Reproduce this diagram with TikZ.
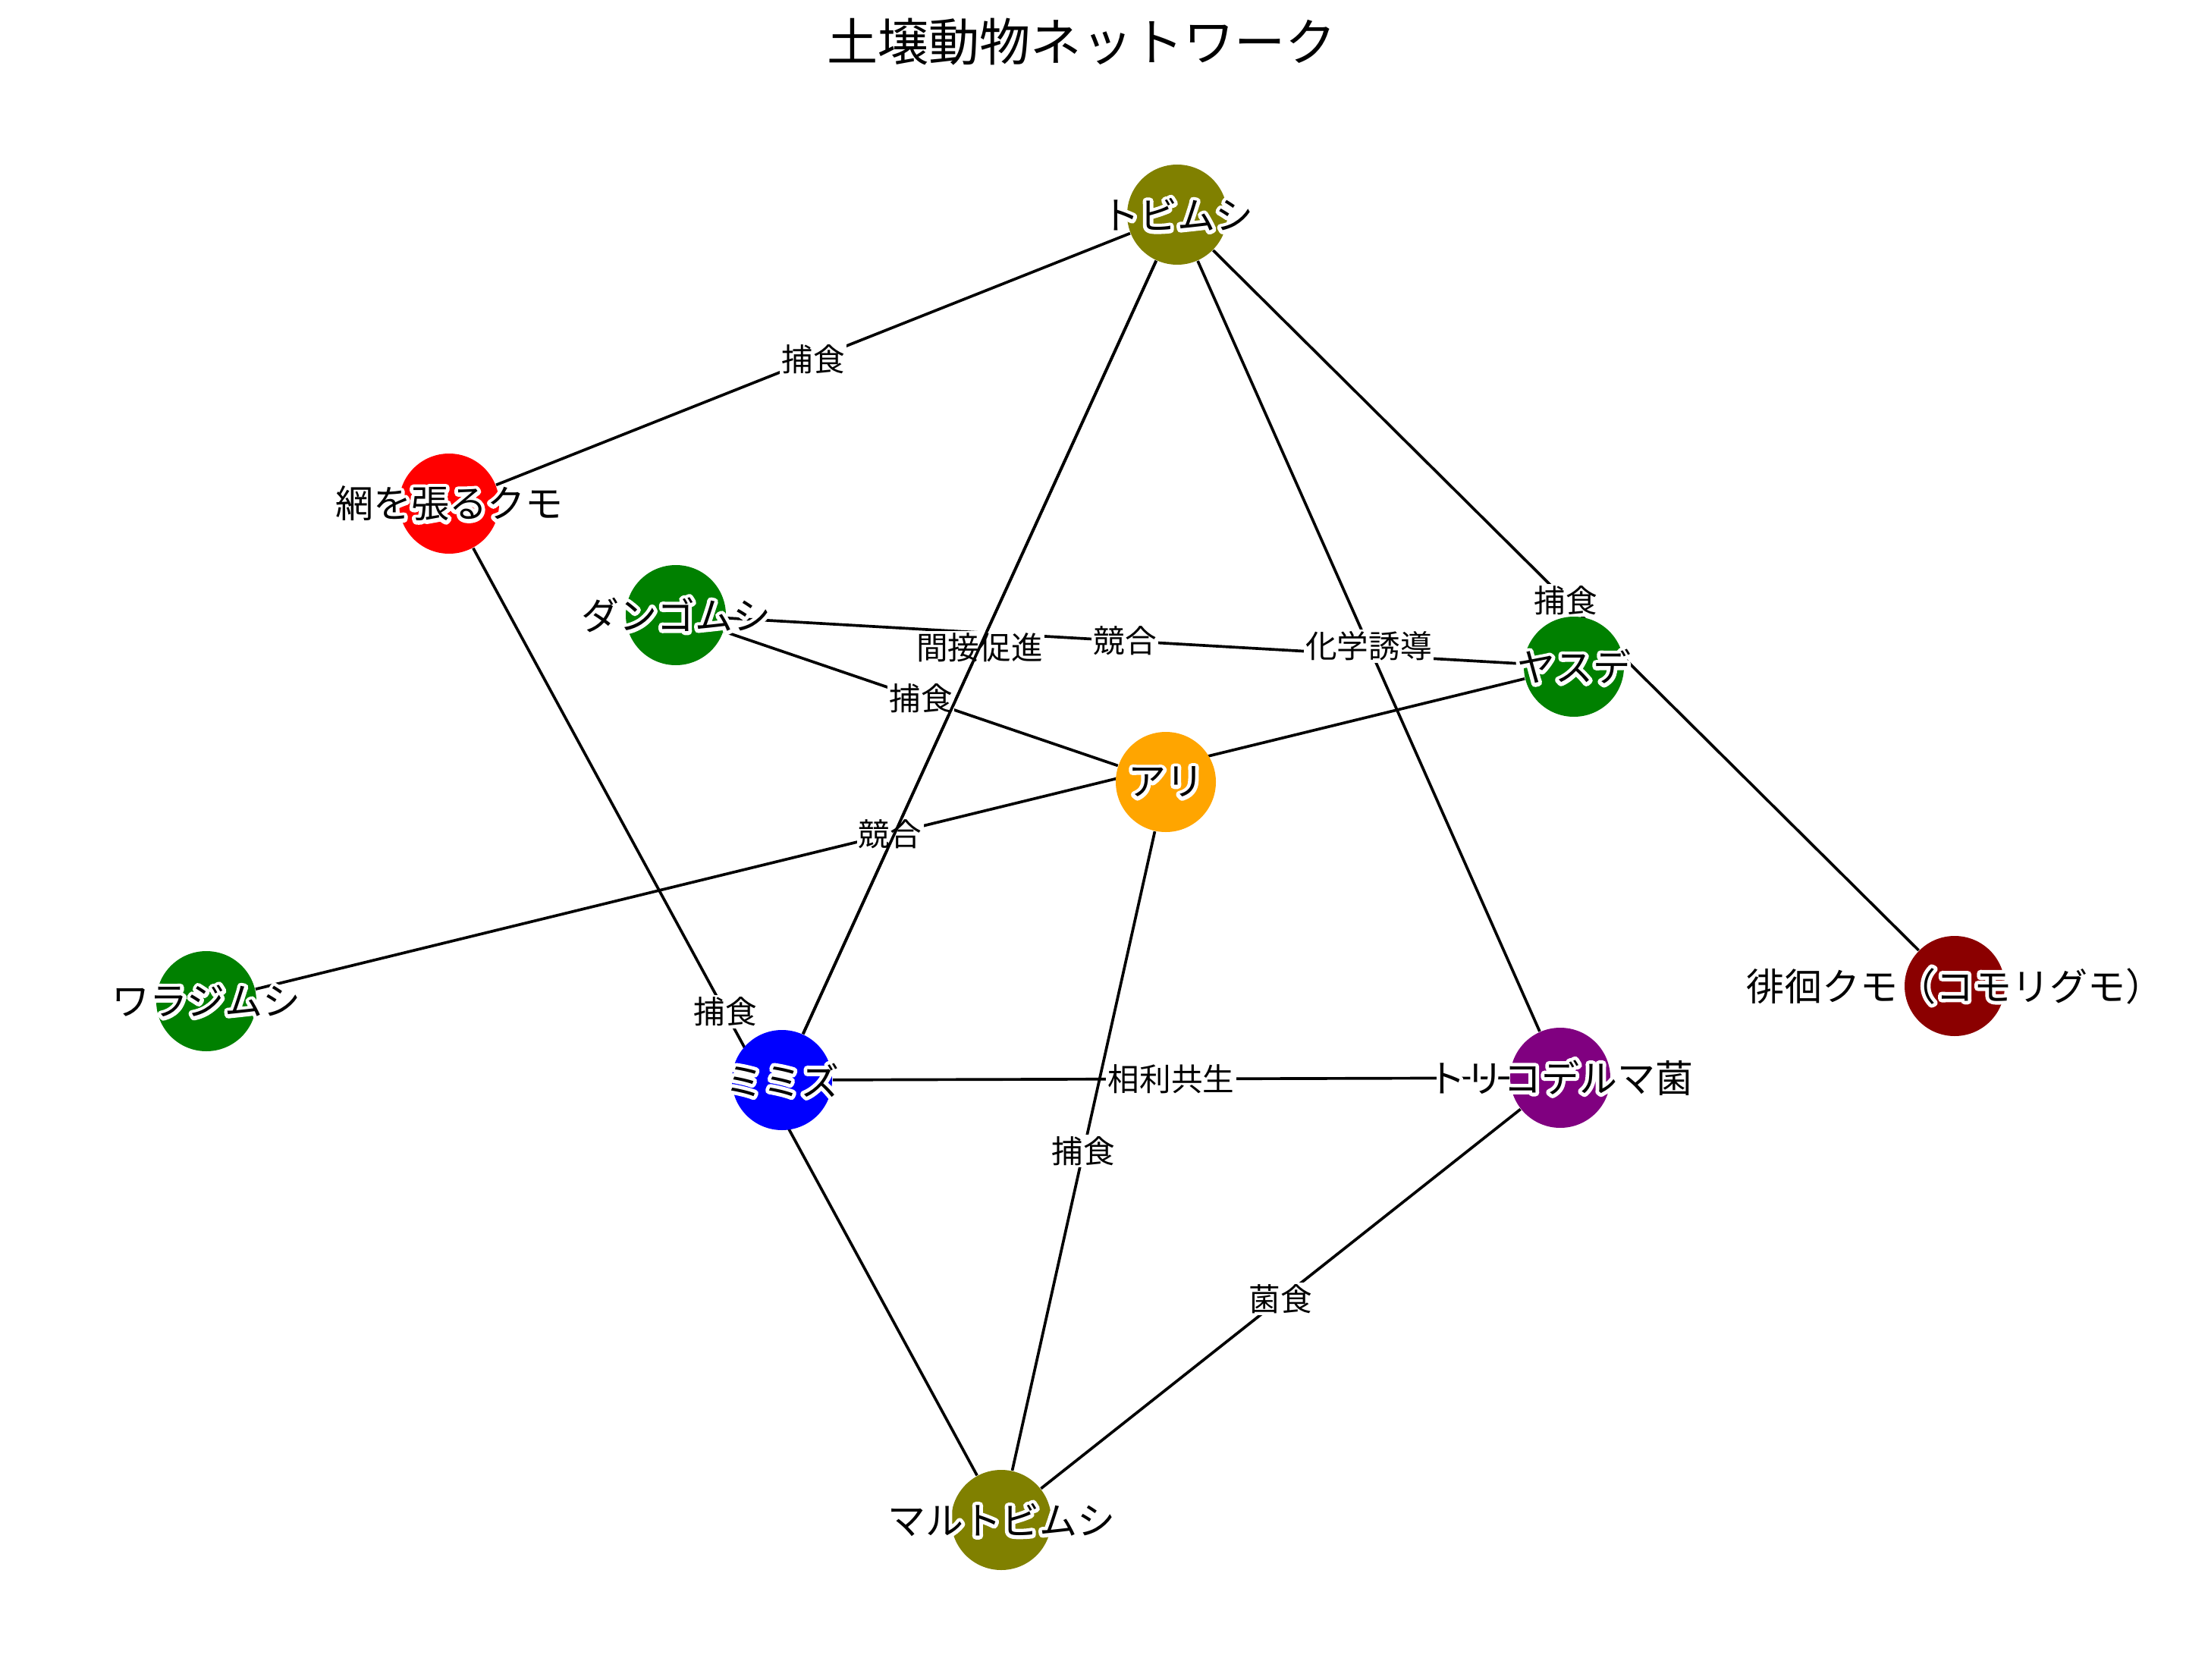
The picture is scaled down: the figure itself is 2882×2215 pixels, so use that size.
\documentclass[tikz,border=0pt]{standalone}
\usepackage{fontspec}
\setmainfont{Noto Sans CJK JP}
\definecolor{mplgreen}{RGB}{0,128,0}
\definecolor{mplolive}{RGB}{128,128,0}
\definecolor{mplorange}{RGB}{255,165,0}
\definecolor{mplpurple}{RGB}{128,0,128}
\definecolor{mpldarkred}{RGB}{139,0,0}
\definecolor{mplred}{RGB}{255,0,0}
\definecolor{mplblue}{RGB}{0,0,255}
\newcommand\haloed[1]{\leavevmode\rlap{\special{pdf:literal direct 1 Tr 2.4 w 1 J 1 j 1 1 1 RG}#1\special{pdf:literal direct 0 Tr 0 0 0 RG}}#1}
\pgfdeclarelayer{edges}
\pgfdeclarelayer{front}
\pgfsetlayers{edges,main,front}
\begin{document}
\begin{tikzpicture}[x=0.25pt,y=-0.25pt,
  edge/.style={line width=0.92pt, black},
  animal/.style={circle, minimum size=33pt, inner sep=0pt, draw=none, fill=#1},
  elab/.style={fill=white, inner sep=0.6pt, font=\fontsize{10.4}{12}\selectfont},
  nlab/.style={inner sep=0pt, font=\fontsize{12.5}{14}\selectfont}]
\useasboundingbox (0,0) rectangle (2882,2215);

\node[font=\fontsize{16.8}{20}\selectfont] (title) at (1426,55) {土壌動物ネットワーク};

% nodes
\node[animal=mplolive]   (tobi)   at (1552,283)  {};
\node[animal=mplred]     (ami)    at (592,664)   {};
\node[animal=mplgreen]   (dango)  at (891,811)   {};
\node[animal=mplgreen]   (yasude) at (2075,879)  {};
\node[animal=mplorange]  (ari)    at (1537,1031) {};
\node[animal=mplgreen]   (waraji) at (272,1320)  {};
\node[animal=mplblue]    (mimizu) at (1031,1424) {};
\node[animal=mplpurple]  (trico)  at (2057,1421) {};
\node[animal=mpldarkred] (haikai) at (2577,1300) {};
\node[animal=mplolive]   (maru)   at (1320,2004) {};

% node labels
\node[nlab] (tobiL)   at (tobi)   {\haloed{トビムシ}};
\node[nlab] (amiL)    at (ami)    {\haloed{網を張るクモ}};
\node[nlab] (dangoL)  at (dango)  {\haloed{ダンゴムシ}};
\node[nlab] (yasudeL) at (yasude) {\haloed{ヤスデ}};
\node[nlab] (ariL)    at (ari)    {\haloed{アリ}};
\node[nlab] (warajiL) at (waraji) {\haloed{ワラジムシ}};
\node[nlab] (mimizuL) at (mimizu) {\haloed{ミミズ}};
\node[nlab] (tricoL)  at (trico)  {\haloed{トリコデルマ菌}};
\node[nlab] (haikaiL) at (haikai) {\haloed{徘徊クモ（コモリグモ）}};
\node[nlab] (maruL)   at (maru)   {\haloed{マルトビムシ}};

% edges
\begin{pgfonlayer}{edges}
\draw[edge] (tobi) -- (ami);
\draw[edge] (tobi) -- (mimizu);
\draw[edge] (tobi) -- (trico);
\draw[edge] (tobi) -- (haikai);
\draw[edge] (dango) -- (yasude);
\draw[edge] (dango) -- (ari);
\draw[edge] (yasude) -- (waraji);
\draw[edge] (ari) -- (maru);
\draw[edge] (ami) -- (maru);
\draw[edge] (mimizu) -- (trico);
\draw[edge] (trico) -- (maru);
\end{pgfonlayer}

% edge labels
\begin{pgfonlayer}{front}
\path (tobi) -- (ami) node[elab, midway] (l1) {捕食};
\path (tobi) -- (trico) node[elab, midway] (l3) {化学誘導};
\path (tobi) -- (haikai) node[elab, midway] (l4) {捕食};
\path (dango) -- (yasude) node[elab, midway] (l5) {競合};
\path (dango) -- (ari) node[elab, midway] (l6) {捕食};
\path (yasude) -- (waraji) node[elab, midway] (l7) {競合};
\path (ari) -- (maru) node[elab, midway] (l8) {捕食};
\path (ami) -- (maru) node[elab, midway] (l9) {捕食};
\path (mimizu) -- (trico) node[elab, midway] (l10) {相利共生};
\path (trico) -- (maru) node[elab, midway] (l11) {菌食};
\path (tobi) -- (mimizu) node[elab, midway, text opacity=0] (l2box) {間接促進};
\draw[edge] (tobi) -- (mimizu);
\path (tobi) -- (mimizu) node[elab, fill=none, midway] (l2) {間接促進};
\end{pgfonlayer}
\end{tikzpicture}
\end{document}
